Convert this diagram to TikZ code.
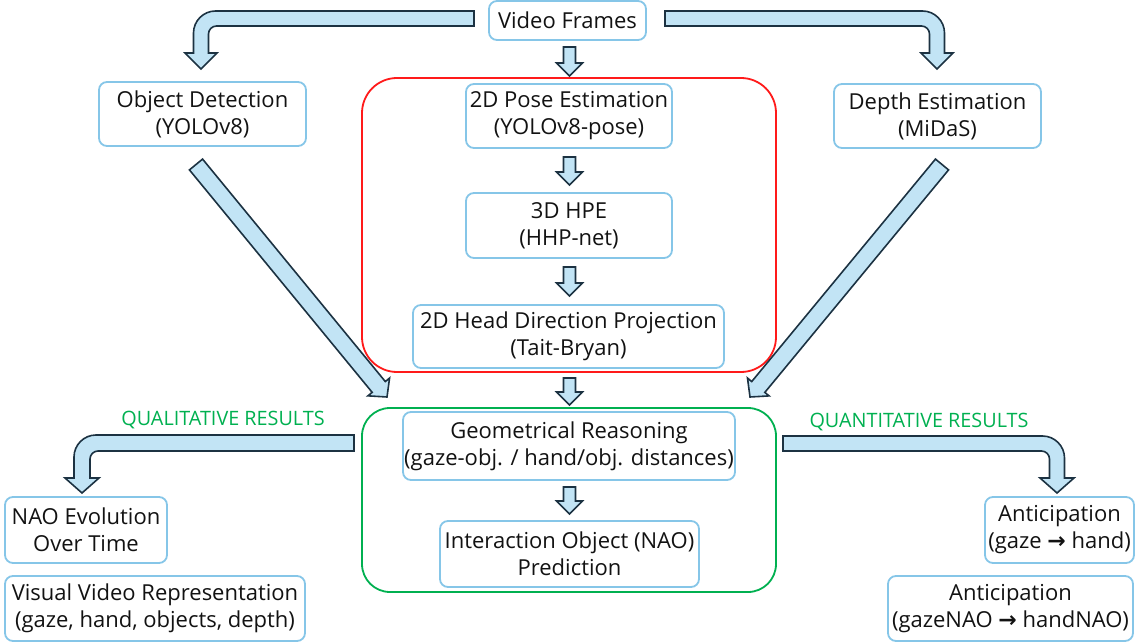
\documentclass[tikz,border=0pt]{standalone}
\usepackage{fontspec}
\setmainfont{Open Sans}
\newfontfamily\arrfont{DejaVu Sans}
\usetikzlibrary{calc}
\definecolor{boxblue}{HTML}{86C6E8}
\definecolor{arrfill}{HTML}{C2E4F5}
\definecolor{arrdark}{HTML}{1C3242}
\definecolor{txt}{HTML}{121212}
\definecolor{gr}{HTML}{00B050}
\definecolor{rd}{HTML}{FF1A1A}
\newcommand\blockarr[5]{%
  \coordinate (bah) at ($(#2)!#5!(#1)$);
  \draw[barrow] ($(#1)!#3!90:(#2)$) -- ($(bah)!#3!90:(#2)$) -- ($(bah)!#4!90:(#2)$) -- (#2)
    -- ($(bah)!#4!-90:(#2)$) -- ($(bah)!#3!-90:(#2)$) -- ($(#1)!#3!-90:(#2)$) -- cycle;}
\newcommand\rarr{{\arrfont\bfseries →}}
\begin{document}
\begin{tikzpicture}[x=1pt,y=-1pt,
  box/.style={draw=boxblue,line width=1.8pt,rounded corners=8pt,align=center,text=txt,
    inner sep=0pt,font=\fontsize{22}{27}\selectfont},
  barrow/.style={fill=arrfill,draw=arrdark,line width=1.6pt,line join=miter},
  lbl/.style={text=gr,font=\fontsize{19.8}{22}\selectfont}]
\useasboundingbox (0,0) rectangle (1137,644);
% group frames
\draw[rd,line width=1.8pt,rounded corners=35pt] (362,78) rectangle (776,372);
\draw[gr,line width=1.8pt,rounded corners=28pt] (362,408) rectangle (776,592);
% nodes
\node[box,minimum width=157,minimum height=39] (vf) at (567.5,20.5) {Video Frames};
\node[box,minimum width=207,minimum height=64] (od) at (202.5,114) {Object Detection\\(YOLOv8)};
\node[box,minimum width=206,minimum height=64] (pose) at (569,116) {2D Pose Estimation\\(YOLOv8-pose)};
\node[box,minimum width=206,minimum height=65] (hpe) at (569,225.5) {3D HPE\\(HHP-net)};
\node[box,minimum width=311,minimum height=63] (head) at (568.5,336.5) {2D Head Direction Projection\\(Tait-Bryan)};
\node[box,minimum width=207,minimum height=64] (de) at (937.5,116) {Depth Estimation\\(MiDaS)};
\node[box,minimum width=332,minimum height=68] (geo) at (569,446) {Geometrical Reasoning\\(gaze-obj. / hand/obj. distances)};
\node[box,minimum width=259,minimum height=66] (inter) at (569.5,554) {Interaction Object (NAO)\\Prediction};
\node[box,minimum width=162,minimum height=66] (nao) at (86,530) {NAO Evolution\\Over Time};
\node[box,minimum width=300,minimum height=65] (vvr) at (155,608.5) {Visual Video Representation\\(gaze, hand, objects, depth)};
\node[box,minimum width=149,minimum height=66] (ant1) at (1059.5,530) {Anticipation\\(gaze \rarr\ hand)};
\node[box,minimum width=245,minimum height=65] (ant2) at (1010.5,608.5) {Anticipation\\(gazeNAO \rarr\ handNAO)};
% labels
\node[lbl] (ql) at (223,420) {QUALITATIVE RESULTS};
\node[lbl] (qn) at (919,422) {QUANTITATIVE RESULTS};
% small straight arrows
\coordinate (a1s) at (569.5,47);  \coordinate (a1e) at (569.5,76);
\coordinate (a2s) at (569.5,157); \coordinate (a2e) at (569.5,185);
\coordinate (a3s) at (569.5,267); \coordinate (a3e) at (569.5,296);
\coordinate (a4s) at (569.5,378); \coordinate (a4e) at (569.5,405);
\coordinate (a5s) at (569.5,487); \coordinate (a5e) at (569.5,514);
\blockarr{a1s}{a1e}{6pt}{13pt}{13pt}
\blockarr{a2s}{a2e}{6pt}{13pt}{13pt}
\blockarr{a3s}{a3e}{6pt}{13pt}{13pt}
\blockarr{a4s}{a4e}{6pt}{13pt}{13pt}
\blockarr{a5s}{a5e}{6pt}{13pt}{13pt}
% diagonal arrows
\coordinate (d1s) at (196,164.5); \coordinate (d1e) at (387,397);
\coordinate (d2s) at (942,164.5); \coordinate (d2e) at (750,397);
\blockarr{d1s}{d1e}{8.5pt}{14pt}{13pt}
\blockarr{d2s}{d2e}{8.5pt}{14pt}{13pt}
% bent arrows
\draw[barrow] (474,11) -- (215.5,11) .. controls (203.4,11) and (193.5,20.9) .. (193.5,33)
  -- (193.5,53) -- (185,53) -- (201,69) -- (217,53) -- (208.5,53) -- (208.5,34)
  .. controls (208.5,29.6) and (212.1,26) .. (216.5,26) -- (474,26) -- cycle;
\draw[barrow] (665,11) -- (922.5,11) .. controls (934.6,11) and (944.5,20.9) .. (944.5,33)
  -- (944.5,53) -- (953,53) -- (937,69) -- (921,53) -- (929.5,53) -- (929.5,34)
  .. controls (929.5,29.6) and (925.9,26) .. (921.5,26) -- (665,26) -- cycle;
\draw[barrow] (354,435) -- (96,435) .. controls (83.9,435) and (74,444.9) .. (74,457)
  -- (74,478) -- (65,478) -- (82,493) -- (99,478) -- (90,478) -- (90,459)
  .. controls (90,454.6) and (93.6,451) .. (98,451) -- (354,451) -- cycle;
\draw[barrow] (783,436) -- (1042.5,436) .. controls (1054.6,436) and (1064.5,445.9) .. (1064.5,458)
  -- (1064.5,478) -- (1074,478) -- (1057,493) -- (1040,478) -- (1049.5,478) -- (1049.5,459)
  .. controls (1049.5,454.6) and (1045.9,451) .. (1041.5,451) -- (783,451) -- cycle;
\end{tikzpicture}
\end{document}
